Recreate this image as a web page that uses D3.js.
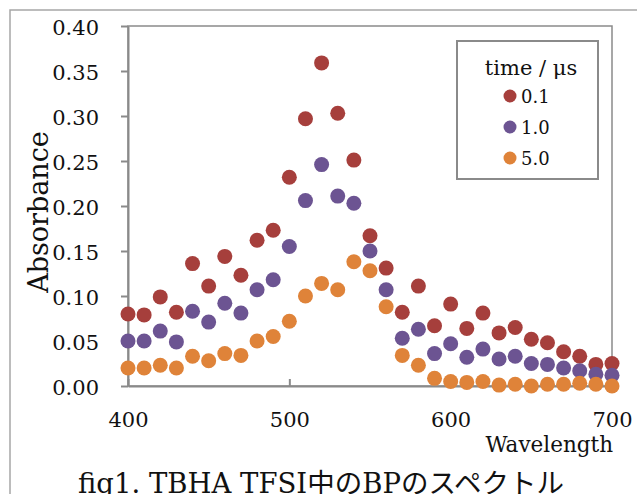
<!DOCTYPE html>
<html>
<head>
<meta charset="utf-8">
<script src="https://cdn.jsdelivr.net/npm/d3@7"></script>
<style>
  body { margin: 0; background: #fff; }
  svg { display: block; font-family: "DejaVu Serif", "Noto Sans CJK JP", serif; }
</style>
</head>
<body>
<div id="chart"></div>
<script>
// data
const wavelengths = [400, 410, 420, 430, 440, 450, 460, 470, 480, 490, 500, 510, 520, 530, 540, 550,
    560, 570, 580, 590, 600, 610, 620, 630, 640, 650, 660, 670, 680, 690, 700];
const abs01 = [0.080, 0.079, 0.099, 0.082, 0.136, 0.111, 0.144, 0.123, 0.162, 0.173, 0.232, 0.297, 0.359, 0.303, 0.251, 0.167,
    0.131, 0.082, 0.111, 0.067, 0.091, 0.064, 0.081, 0.059, 0.065, 0.052, 0.048, 0.038, 0.033, 0.024, 0.025];
const abs10 = [0.050, 0.050, 0.061, 0.049, 0.083, 0.071, 0.092, 0.081, 0.107, 0.118, 0.155, 0.206, 0.246, 0.211, 0.203, 0.150,
    0.107, 0.053, 0.063, 0.036, 0.047, 0.032, 0.041, 0.030, 0.033, 0.025, 0.024, 0.020, 0.017, 0.013, 0.012];
const abs50 = [0.020, 0.020, 0.023, 0.020, 0.033, 0.028, 0.036, 0.034, 0.050, 0.055, 0.072, 0.100, 0.114, 0.107, 0.138, 0.128,
    0.088, 0.034, 0.023, 0.0085, 0.005, 0.004, 0.005, 0.001, 0.002, 0.000, 0.002, 0.002, 0.003, 0.002, 0.000];
const seriesNames = ["0.1", "1.0", "5.0"];
const yTicks = [0, 0.05, 0.10, 0.15, 0.20, 0.25, 0.30, 0.35, 0.40];
const xTicks = [400, 500, 600, 700];

const series = [
    { name: seriesNames[0], values: abs01, color: "#a63f3c" },
    { name: seriesNames[1], values: abs10, color: "#6c5492" },
    { name: seriesNames[2], values: abs50, color: "#df8339" }
];

const width = 637, height = 494;
const plot = { left: 128, right: 612, top: 26, bottom: 386 };
const gray = "#8a8a8a";

const svg = d3.select("#chart").append("svg")
    .attr("width", width)
    .attr("height", height);

// outer chart frame (runs off the right and bottom)
svg.append("rect")
    .attr("x", 10).attr("y", 10)
    .attr("width", 700).attr("height", 600)
    .attr("fill", "none")
    .attr("stroke", "#a6a6a6")
    .attr("stroke-width", 1.5);

const x = d3.scaleLinear().domain([400, 700]).range([plot.left, plot.right]);
const y = d3.scaleLinear().domain([0, 0.4]).range([plot.bottom, plot.top]);

// plot area border
svg.append("rect")
    .attr("x", plot.left).attr("y", plot.top)
    .attr("width", plot.right - plot.left).attr("height", plot.bottom - plot.top)
    .attr("fill", "none")
    .attr("stroke", gray)
    .attr("stroke-width", 1.5);

// y axis
const yAxis = svg.append("g")
    .attr("transform", `translate(${plot.left},0)`)
    .call(d3.axisLeft(y).tickValues(yTicks).tickFormat(d3.format(".2f")).tickSize(7).tickPadding(22).tickSizeOuter(0));
yAxis.selectAll("text").attr("font-size", "21px").attr("fill", "#111").attr("dy", "0.4em");

// x axis, ticks point inward
const xAxis = svg.append("g")
    .attr("transform", `translate(0,${plot.bottom})`)
    .call(d3.axisBottom(x).tickValues(xTicks).tickSize(-7).tickPadding(26).tickSizeOuter(0));
xAxis.selectAll("text").attr("font-size", "21px").attr("fill", "#111");

svg.selectAll(".domain, .tick line").attr("stroke", gray).attr("stroke-width", 2);
svg.selectAll(".tick text").attr("font-family", "DejaVu Serif");

// axis titles
svg.append("text")
    .attr("transform", "translate(48,212) rotate(-90)")
    .attr("text-anchor", "middle")
    .attr("font-size", "27px")
    .attr("fill", "#111")
    .text("Absorbance");

svg.append("text")
    .attr("x", 613)
    .attr("y", 452)
    .attr("text-anchor", "end")
    .attr("font-size", "21.5px")
    .attr("fill", "#111")
    .text("Wavelength");

// points, drawn 0.1 -> 1.0 -> 5.0
series.forEach(s => {
    svg.append("g")
        .selectAll("circle")
        .data(s.values)
        .enter()
        .append("circle")
        .attr("cx", (d, i) => x(wavelengths[i]))
        .attr("cy", d => y(d))
        .attr("r", 7.5)
        .attr("fill", s.color);
});

// legend
const legend = svg.append("g");
legend.append("rect")
    .attr("x", 457).attr("y", 41)
    .attr("width", 141).attr("height", 138)
    .attr("fill", "#fff")
    .attr("stroke", gray)
    .attr("stroke-width", 2);
legend.append("text")
    .attr("x", 531).attr("y", 75)
    .attr("text-anchor", "middle")
    .attr("font-size", "21px")
    .attr("fill", "#111")
    .text("time / μs");
series.forEach((s, i) => {
    legend.append("circle")
        .attr("cx", 510).attr("cy", 96 + i * 31)
        .attr("r", 6.5)
        .attr("fill", s.color);
    legend.append("text")
        .attr("x", 521).attr("y", 102.5 + i * 31)
        .attr("font-size", "18px")
        .attr("fill", "#111")
        .text(s.name);
});

// caption (cut by the bottom edge, as in the original)
svg.append("text")
    .attr("x", 78)
    .attr("y", 493)
    .attr("font-size", "27.5px")
    .attr("fill", "#111")
    .text("fig1. TBHA TFSI中のBPのスペクトル");
</script>
</body>
</html>
